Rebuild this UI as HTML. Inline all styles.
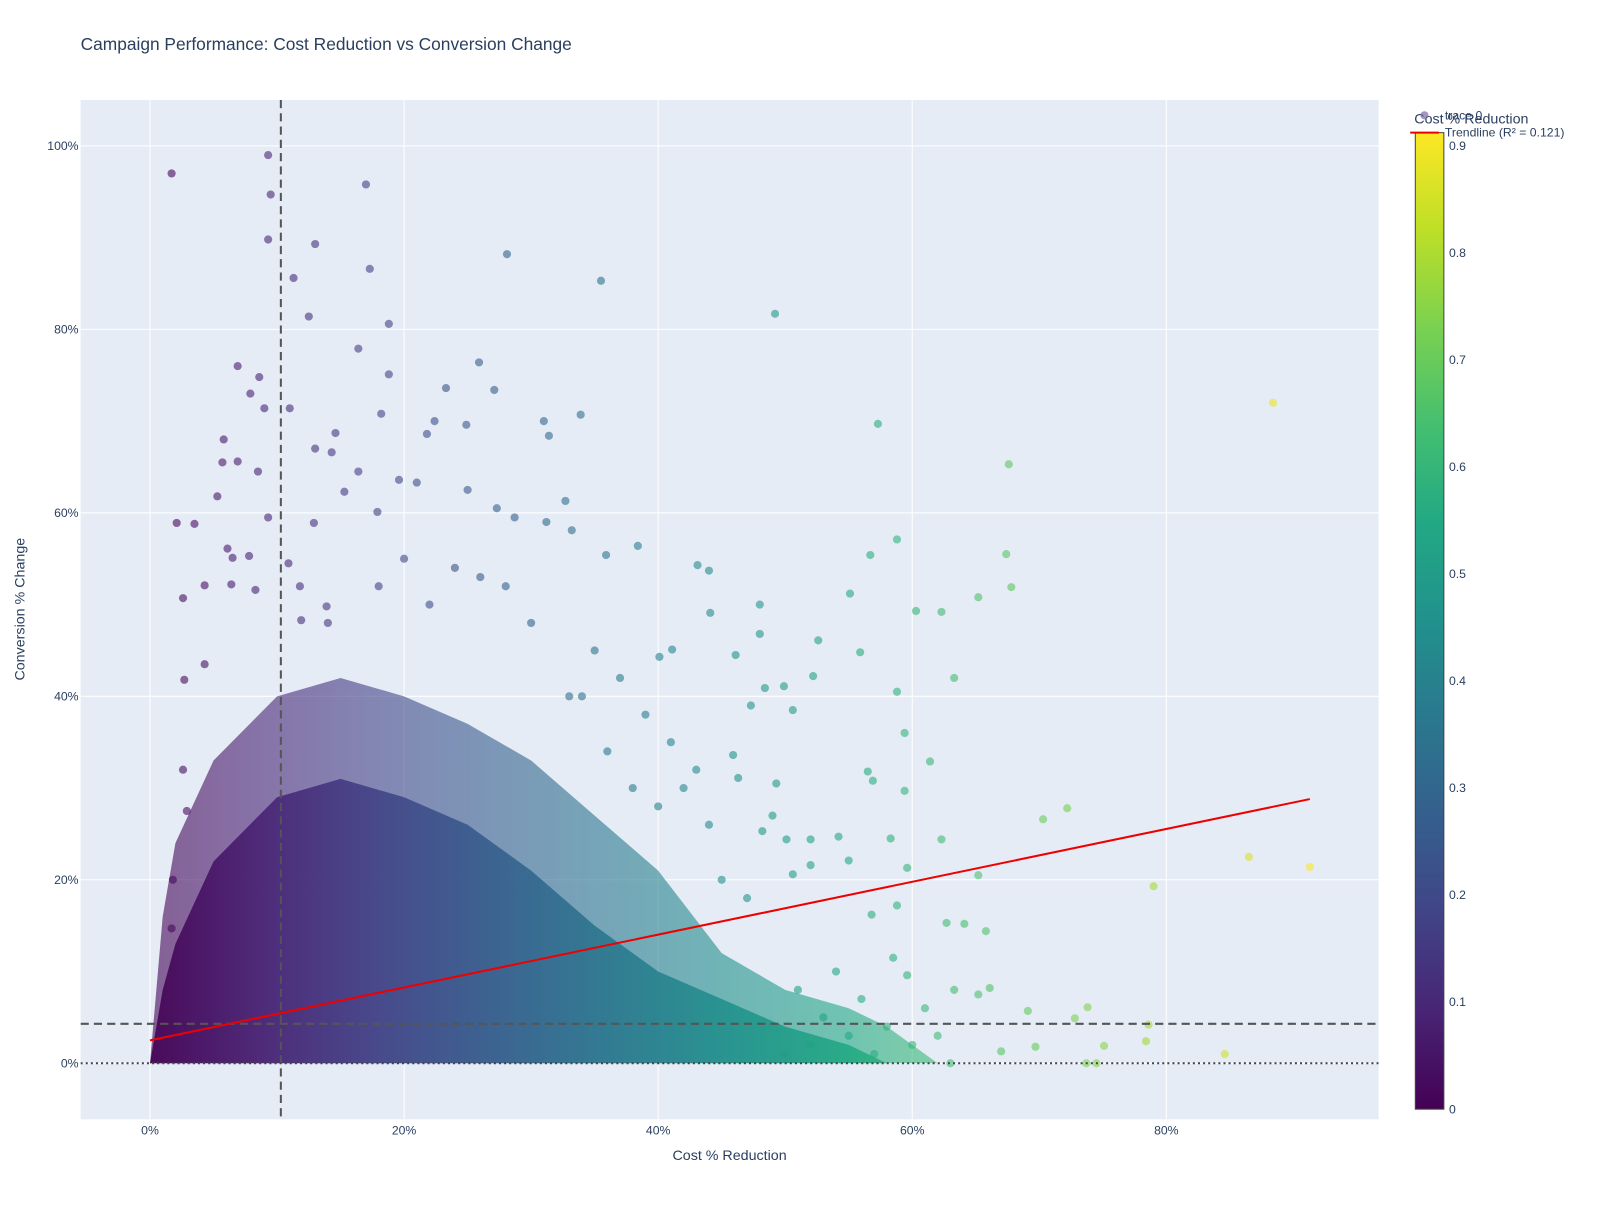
<!DOCTYPE html>
<html><head><meta charset="utf-8"><style>
body{margin:0;background:#fff;font-family:"Liberation Sans",sans-serif;}
text{font-family:"Liberation Sans",sans-serif;}
</style></head><body>
<svg id="chart" width="1600" height="1200" xmlns="http://www.w3.org/2000/svg">
<defs>
<linearGradient id="vir" gradientUnits="userSpaceOnUse" x1="147" y1="0" x2="1283" y2="0">
<stop offset="0" stop-color="#440154"/><stop offset="0.1" stop-color="#482475"/><stop offset="0.2" stop-color="#414487"/><stop offset="0.3" stop-color="#355f8d"/><stop offset="0.4" stop-color="#2a788e"/><stop offset="0.5" stop-color="#21918c"/><stop offset="0.6" stop-color="#22a884"/><stop offset="0.7" stop-color="#44bf70"/><stop offset="0.8" stop-color="#7ad151"/><stop offset="0.9" stop-color="#bddf26"/><stop offset="1" stop-color="#fde725"/>
</linearGradient>
<linearGradient id="virV" x1="0" y1="1" x2="0" y2="0">
<stop offset="0" stop-color="#440154"/><stop offset="0.1" stop-color="#482475"/><stop offset="0.2" stop-color="#414487"/><stop offset="0.3" stop-color="#355f8d"/><stop offset="0.4" stop-color="#2a788e"/><stop offset="0.5" stop-color="#21918c"/><stop offset="0.6" stop-color="#22a884"/><stop offset="0.7" stop-color="#44bf70"/><stop offset="0.8" stop-color="#7ad151"/><stop offset="0.9" stop-color="#bddf26"/><stop offset="1" stop-color="#fde725"/>
</linearGradient>
<clipPath id="clip"><rect x="79" y="98" width="1272" height="999"/></clipPath>
</defs>
<g transform="scale(1.0204)">
<text x="79" y="49" font-size="17" fill="#2a3f5f">Campaign Performance: Cost Reduction vs Conversion Change</text>
<rect x="79" y="98" width="1272" height="999" fill="#e5ecf6"/>
<g id="grid"></g>
<g id="marks" clip-path="url(#clip)"></g>
<g id="axes"></g>
<text x="715" y="1137" font-size="14" fill="#2a3f5f" text-anchor="middle">Cost % Reduction</text>
<text transform="translate(24,597) rotate(-90)" font-size="14" fill="#2a3f5f" text-anchor="middle">Conversion % Change</text>
<g>
<rect x="1387" y="130" width="28" height="957" fill="url(#virV)" stroke="#444" stroke-width="1"/>
<text x="1386" y="121" font-size="14" fill="#2a3f5f">Cost % Reduction</text>
<g id="cbticks"></g>
</g>
<g>
<circle cx="1396" cy="113" r="4" fill="#7b6aa3" opacity="0.7"/>
<text x="1416" y="117" font-size="12" fill="#2a3f5f">trace 0</text>
<line x1="1382" y1="130" x2="1410" y2="130" stroke="#e00" stroke-width="2"/>
<text x="1416" y="134" font-size="12" fill="#2a3f5f">Trendline (R² = 0.121)</text>
</g>
</g>
</svg>
<script>
const xTicks=[0,20,40,60,80];
const yTicks=[0,20,40,60,80,100];
const cbTicks=[0,0.1,0.2,0.3,0.4,0.5,0.6,0.7,0.8,0.9];
const ptX=[1.7,9.3,9.5,9.3,13,17,17.3,11.3,12.5,18.8,28.1,35.5,49.2,88.4,57.3,67.6,16.4,18.8,6.9,8.6,7.9,9,11,14.6,5.8,13,14.3,6.9,5.7,8.5,16.4,19.6,21,23.3,25.9,27.1,31,33.9,31.4,22.4,24.9,21.8,18.2,5.3,2.1,3.5,9.3,12.9,15.3,17.9,25,27.3,28.7,32.7,31.2,33.2,38.4,35.9,43.1,44,56.7,58.8,67.4,67.8,65.2,60.3,62.3,55.1,52.6,55.9,63.3,58.8,59.4,61.4,56.9,56.5,59.4,70.3,72.2,86.5,91.3,79,65.2,62.3,58.3,59.6,58.8,56.8,62.7,64.1,65.8,58.5,59.6,63.3,66.1,65.2,69.1,72.8,73.8,78.6,75.1,69.7,67,73.7,74.5,78.4,84.6,48,48,44.1,41.1,40.1,46.1,49.9,50.6,52.2,48.4,47.3,54.2,55,52,50.1,49,50.6,52,49.3,45.9,46.3,48.2,2.6,4.3,6.4,6.5,6.1,7.8,8.3,2.7,4.3,1.7,1.8,2.6,2.9,10.9,11.8,11.9,13.9,53,55,57,58,60,61,62,63,56,54,52,50,51,38,36,40,42,44,37,34,45,47,43,20,24,28,30,26,22,18,14,35,39,41,33];
const ptY=[97,99,94.7,89.8,89.3,95.8,86.6,85.6,81.4,80.6,88.2,85.3,81.7,72,69.7,65.3,77.9,75.1,76,74.8,73,71.4,71.4,68.7,68,67,66.6,65.6,65.5,64.5,64.5,63.6,63.3,73.6,76.4,73.4,70,70.7,68.4,70,69.6,68.6,70.8,61.8,58.9,58.8,59.5,58.9,62.3,60.1,62.5,60.5,59.5,61.3,59,58.1,56.4,55.4,54.3,53.7,55.4,57.1,55.5,51.9,50.8,49.3,49.2,51.2,46.1,44.8,42,40.5,36,32.9,30.8,31.8,29.7,26.6,27.8,22.5,21.4,19.3,20.5,24.4,24.5,21.3,17.2,16.2,15.3,15.2,14.4,11.5,9.6,8,8.2,7.5,5.7,4.9,6.1,4.2,1.9,1.8,1.3,0,0,2.4,1,50,46.8,49.1,45.1,44.3,44.5,41.1,38.5,42.2,40.9,39,24.7,22.1,24.4,24.4,27,20.6,21.6,30.5,33.6,31.1,25.3,50.7,52.1,52.2,55.1,56.1,55.3,51.6,41.8,43.5,14.7,20,32,27.5,54.5,52,48.3,49.8,5,3,1,4,2,6,3,0,7,10,2,1,8,30,34,28,30,26,42,40,20,18,32,55,54,52,48,53,50,52,48,45,38,35,40];
// density envelope (upper bound of heavy point cloud)
const envX=[0,1,2,5,10,15,20,25,30,35,40,45,50,55,58,60,62];
const envSparse=[0,16,24,33,40,42,40,37,33,27,21,12,8,6,4,2,0];
const envDense=[0,8,13,22,29,31,29,26,21,15,10,7,4,2,0,0,0];
const trendX=[0,91.3], trendY=[2.5,28.8];
const vRef=10.3, hRef=4.3;

const X=v=>147+v*12.45, Y=v=>1042-v*8.99, CB=v=>1087-v*1048.9;
const NS="http://www.w3.org/2000/svg";
function mk(tag,attrs,parent){const e=document.createElementNS(NS,tag);for(const k in attrs)e.setAttribute(k,attrs[k]);parent.appendChild(e);return e;}
const grid=document.getElementById('grid'),axes=document.getElementById('axes'),marks=document.getElementById('marks');
function viridis(t){const s=[[68,1,84],[72,36,117],[65,68,135],[53,95,141],[42,120,142],[33,145,140],[34,168,132],[68,191,112],[122,209,81],[189,223,38],[253,231,37]];
t=Math.max(0,Math.min(1,t))*10;const i=Math.min(9,Math.floor(t)),f=t-i;const c=s[i].map((a,k)=>Math.round(a+(s[i+1][k]-a)*f));return `rgb(${c})`;}
xTicks.forEach(v=>{const l=mk('line',{x1:X(v),x2:X(v),y1:98,y2:1097,stroke:'#fff','stroke-width':1},grid);


const t=mk('text',{x:X(v),y:1112,'font-size':12,fill:'#2a3f5f','text-anchor':'middle'},axes);t.textContent=v+'%';

});
yTicks.forEach(v=>{const l=mk('line',{x1:79,x2:1351,y1:Y(v),y2:Y(v),stroke:'#fff','stroke-width':1},grid);


const t=mk('text',{x:77,y:Y(v)+4,'font-size':12,fill:'#2a3f5f','text-anchor':'end'},axes);t.textContent=v+'%';

});
cbTicks.forEach(v=>{const t=mk('text',{x:1420,y:CB(v)+4,'font-size':12,fill:'#2a3f5f'},document.getElementById('cbticks'));t.textContent=v;

});
function env(arr){let d=`M${X(envX[0])},${Y(0)}`;envX.forEach((x,i)=>d+=` L${X(x)},${Y(arr[i])}`);return d+` L${X(envX[envX.length-1])},${Y(0)} Z`;}
const sp=mk('path',{d:env(envSparse),fill:'url(#vir)',opacity:0.6},marks);


const dn=mk('path',{d:env(envDense),fill:'url(#vir)',opacity:0.9},marks);


ptX.forEach((x,i)=>{const c=mk('circle',{cx:X(x),cy:Y(ptY[i]),r:4,fill:viridis(x/91.3),opacity:0.6},marks);

});
const vl=mk('line',{x1:X(vRef),x2:X(vRef),y1:98,y2:1097,stroke:'#555','stroke-width':2,'stroke-dasharray':'8,5'},marks);


const hl=mk('line',{x1:79,x2:1351,y1:Y(hRef),y2:Y(hRef),stroke:'#555','stroke-width':2,'stroke-dasharray':'8,5'},marks);


const zl=mk('line',{x1:79,x2:1351,y1:Y(0),y2:Y(0),stroke:'#444','stroke-width':2,'stroke-dasharray':'2,3'},marks);


const tl=mk('line',{x1:X(trendX[0]),y1:Y(trendY[0]),x2:X(trendX[1]),y2:Y(trendY[1]),stroke:'#e00','stroke-width':2},marks);


</script>
</body></html>
